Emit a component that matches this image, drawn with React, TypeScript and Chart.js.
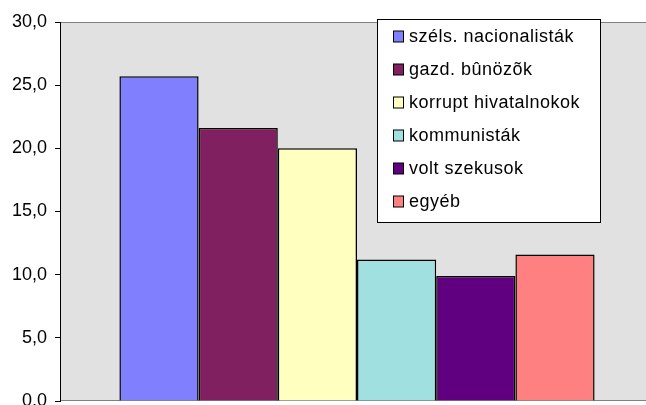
import React, { useEffect, useRef } from "react";
import { Chart, registerables } from "chart.js";

Chart.register(...registerables);

const categories = [""];
const seriesNames = [
  "széls. nacionalisták",
  "gazd. bûnözõk",
  "korrupt hivatalnokok",
  "kommunisták",
  "volt szekusok",
  "egyéb",
];
const seriesValues = [25.7, 21.6, 20.0, 11.2, 9.9, 11.6];
const seriesColors = ["#8080FF", "#802060", "#FFFFC0", "#A0E0E0", "#600080", "#FF8080"];
const yMin = 0;
const yMax = 30;
const yStep = 5;

const FONT = "'Liberation Sans', Arial, sans-serif";

const plotBg = {
  id: "plotBg",
  beforeDraw(chart: any) {
    const { ctx, chartArea: a } = chart;
    ctx.save();
    ctx.fillStyle = "#E1E1E1";
    ctx.fillRect(a.left, a.top, a.right - a.left, a.bottom - a.top);
    ctx.strokeStyle = "#808080";
    ctx.lineWidth = 1;
    ctx.beginPath();
    ctx.moveTo(a.left, a.top + 0.5);
    ctx.lineTo(a.right, a.top + 0.5);
    ctx.moveTo(a.left, a.bottom - 0.5);
    ctx.lineTo(a.right, a.bottom - 0.5);
    ctx.stroke();
    ctx.restore();
  },
};

const boxLegend = {
  id: "boxLegend",
  afterDraw(chart: any) {
    const { ctx } = chart;
    const x0 = 377, y0 = 19, w = 224, h = 204;
    ctx.save();
    ctx.fillStyle = "#FFFFFF";
    ctx.fillRect(x0, y0, w, h);
    ctx.strokeStyle = "#000000";
    ctx.lineWidth = 1;
    ctx.strokeRect(x0 + 0.5, y0 + 0.5, w - 1, h - 1);
    ctx.font = `18px ${FONT}`;
    (ctx as any).letterSpacing = "0.5px";
    ctx.textBaseline = "middle";
    ctx.textAlign = "left";
    chart.data.datasets.forEach((ds: any, i: number) => {
      const cy = 36.5 + i * 33;
      ctx.fillStyle = ds.backgroundColor;
      ctx.fillRect(393.5, cy - 5.5, 10, 11);
      ctx.strokeStyle = "#000";
      ctx.strokeRect(393.5, cy - 5.5, 10, 11);
      ctx.fillStyle = "#000";
      ctx.fillText(ds.label, 409, cy + 1);
    });
    (ctx as any).letterSpacing = "0px";
    ctx.restore();
  },
};

export default function App() {
  const ref = useRef<HTMLCanvasElement>(null);
  useEffect(() => {
    if (!ref.current) return;
    const chart = new Chart(ref.current, {
      type: "bar",
      data: {
        labels: categories,
        datasets: seriesNames.map((name, i) => ({
          label: name,
          data: [seriesValues[i]],
          backgroundColor: seriesColors[i],
          borderColor: "#000000",
          borderWidth: 1.5,
          categoryPercentage: 0.8,
          barPercentage: 1,
        })),
      },
      options: {
        animation: false,
        responsive: false,
        maintainAspectRatio: false,
        layout: { padding: { top: 22, bottom: 4, left: 0, right: 6 } },
        plugins: { legend: { display: false }, tooltip: { enabled: false } },
        scales: {
          x: { display: false },
          y: {
            min: yMin,
            max: yMax,
            ticks: {
              stepSize: yStep,
              color: "#000",
              padding: 8,
              font: { size: 18, family: FONT },
              callback: (v: any) => Number(v).toFixed(1).replace(".", ","),
            },
            grid: { drawOnChartArea: false, tickLength: 5, color: "#000" },
            border: { color: "#000", width: 1 },
            afterFit: (s: any) => {
              s.width = 60;
              s.paddingTop = 0;
              s.paddingBottom = 0;
            },
          },
        },
      },
      plugins: [plotBg, boxLegend],
    });
    return () => chart.destroy();
  }, []);
  return (
    <div style={{ position: "fixed", left: 0, top: 0, width: 660, height: 405, background: "#fff" }}>
      <canvas ref={ref} width={660} height={405} style={{ display: "block" }} />
    </div>
  );
}
